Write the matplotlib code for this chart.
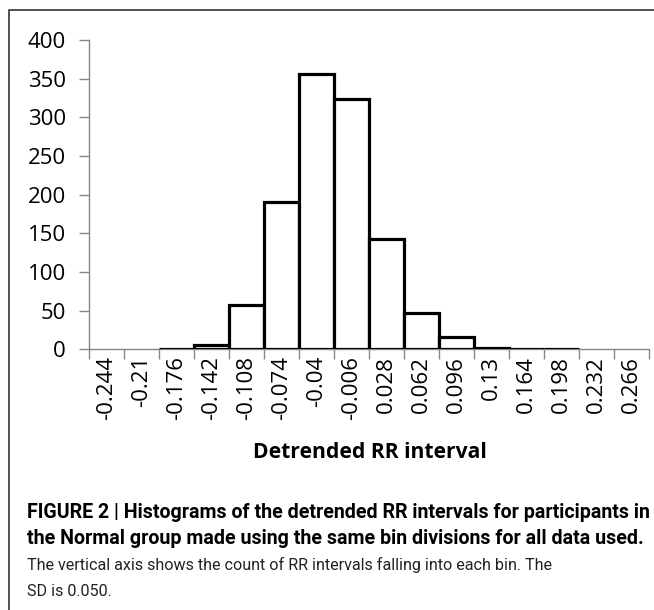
import numpy as np
import matplotlib
matplotlib.use("Agg")
import matplotlib.pyplot as plt
from matplotlib.lines import Line2D

# bin labels (lower edge of each detrended RR bin) and counts per bin
bin_labels = ["-0.244", "-0.21", "-0.176", "-0.142", "-0.108", "-0.074", "-0.04",
              "-0.006", "0.028", "0.062", "0.096", "0.13", "0.164", "0.198",
              "0.232", "0.266"]
counts = [0, 0, 1, 5, 57, 190, 356, 324, 142, 47, 16, 2, 1, 1, 0, 0]
y_ticks = [0, 50, 100, 150, 200, 250, 300, 350, 400]

caption_bold = ["FIGURE 2 | Histograms of the detrended RR intervals for participants in",
                "the Normal group made using the same bin divisions for all data used."]
caption_plain = ["The vertical axis shows the count of RR intervals falling into each bin. The",
                 "SD is 0.050."]

W, H = 654, 610
fig = plt.figure(figsize=(W / 100, H / 100), dpi=100)
ax = fig.add_axes([89.3 / W, 1 - 349.3 / H, 560 / W, 309.3 / H])

x = np.arange(len(counts))
c = np.array(counts)
mask = c > 0
ax.bar(x[mask], c[mask], width=1.0, align="edge", color="white",
       edgecolor="black", linewidth=2.3, zorder=3)

ax.set_xlim(0, len(counts))
ax.set_ylim(0, 400)
ax.set_yticks(y_ticks)
ax.set_yticklabels([str(v) for v in y_ticks], fontsize=16, family="Open Sans")
ax.set_xticks(np.arange(len(counts) + 1), minor=False)
ax.set_xticklabels([])
ax.set_xticks(x + 0.5, minor=True)
ax.set_xticklabels(bin_labels, minor=True, rotation=90, fontsize=16,
                   family="Open Sans", va="top")
ax.tick_params(axis="x", which="minor", length=0, pad=5)
ax.tick_params(axis="x", which="major", length=7, color="#868686", width=1)
ax.tick_params(axis="y", length=7, color="#868686", width=1, pad=10)

for s in ["top", "right"]:
    ax.spines[s].set_visible(False)
for s in ["left", "bottom"]:
    ax.spines[s].set_color("#868686")
    ax.spines[s].set_linewidth(1)

fig.text(370 / W, 1 - 452 / H, "Detrended RR interval", ha="center",
         va="center", fontsize=15.2, fontweight="bold", family="Open Sans")

# outer frame (top and left edges)
fig.add_artist(Line2D([9 / W, 9 / W, 1], [0, 1 - 10 / H, 1 - 10 / H],
                      transform=fig.transFigure, color="#333333", lw=1.2))

ys = [513, 539, 565, 591]
for i, line in enumerate(caption_bold):
    fig.text(27 / W, 1 - ys[i] / H, line, ha="left", va="center",
             fontsize=14.1, fontweight="bold", family="Roboto")
for i, line in enumerate(caption_plain):
    fig.text(27 / W, 1 - ys[i + 2] / H, line, ha="left", va="center",
             fontsize=11.6, color="#222222", family="Roboto")

fig.savefig("out.png", dpi=100)
